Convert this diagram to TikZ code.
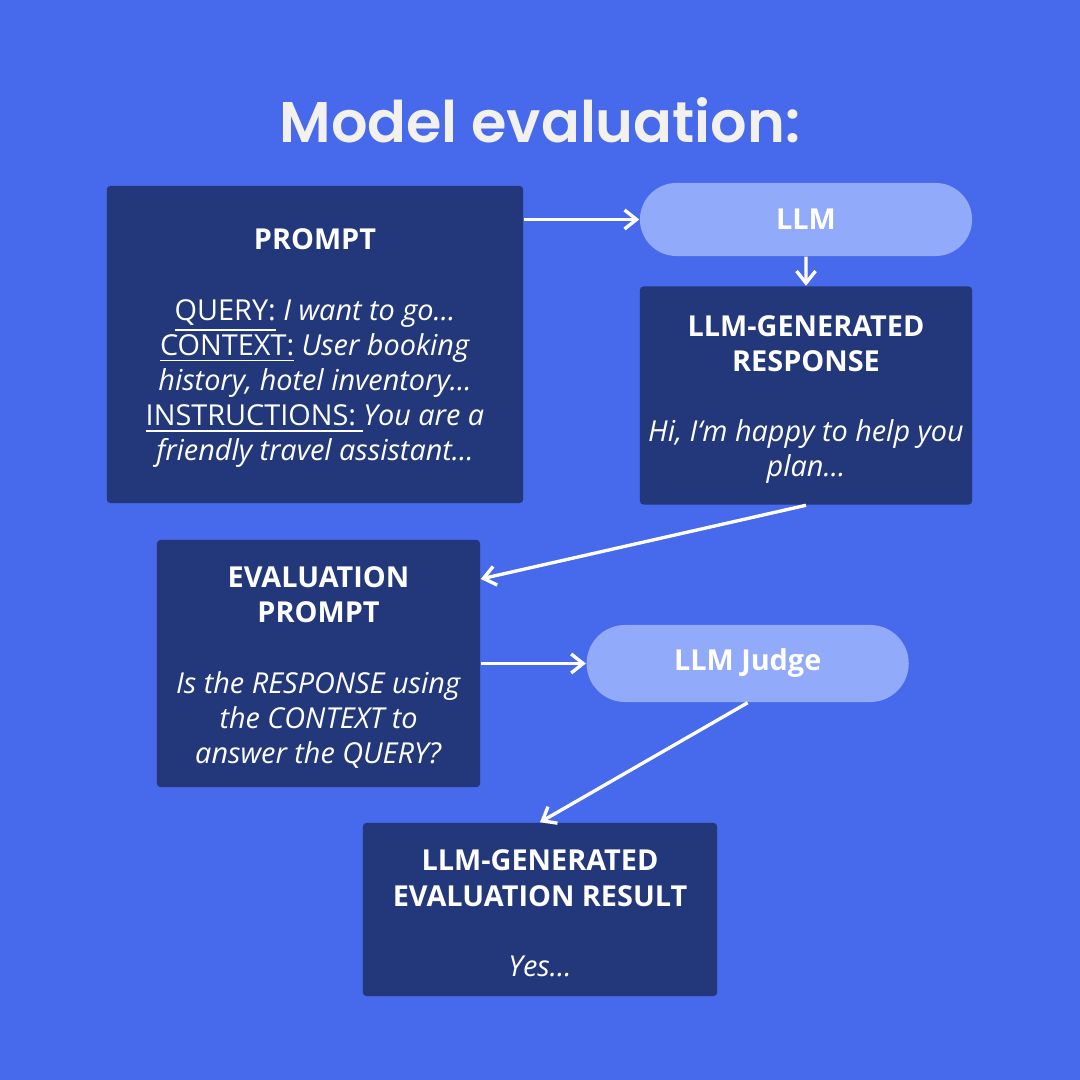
\documentclass[tikz,border=0pt]{standalone}
\usepackage{fontspec}
\setmainfont{Open Sans}
\newfontfamily\titlefont{Poppins}[BoldFont={Poppins SemiBold}]
\usetikzlibrary{arrows.meta,positioning,shapes.misc,calc}
\definecolor{evblue}{HTML}{4769EB}
\definecolor{evnavy}{HTML}{23387B}
\definecolor{evlight}{HTML}{91AAFA}
\definecolor{evwhite}{HTML}{F3F1EE}

\begin{document}
\begin{tikzpicture}[x=0.01cm,y=-0.01cm,>={Straight Barb[length=1.2mm,width=1.9mm]},node distance=0.29cm,
  box/.style={fill=evnavy,rounded corners=1pt,text=white,align=center,inner sep=0pt,font=\fontsize{8.2}{10}\selectfont},
  pill/.style={rounded rectangle,fill=evlight,text=white,inner sep=0pt,font=\fontsize{8.2}{10}\selectfont\bfseries},
  link/.style={->,draw=white,line width=0.95pt}]
\fill[evblue] (0,0) rectangle (1080,1080);
\useasboundingbox (0,0) rectangle (1080,1080);
\node[anchor=base,text=evwhite,font=\titlefont\fontsize{16.3}{20}\selectfont\bfseries](title) at (540,143){Model evaluation:};
% top row
\node[box,minimum width=4.16cm,minimum height=3.17cm](prompt) at (315,344.5){\rule{0pt}{8.2pt}\textbf{PROMPT}\\[10pt]
  \underline{QUERY:} \textit{I want to go...}\\
  \underline{CONTEXT:} \textit{User booking}\\
  \textit{history, hotel inventory...}\\
  \underline{INSTRUCTIONS: }\textit{You are a}\\
  \textit{friendly travel assistant...}};
\node[pill,minimum width=3.32cm,minimum height=0.73cm](llm) at (806,219.5){LLM};
\node[box,below=of llm,minimum width=3.32cm,minimum height=2.18cm](resp){\rule{0pt}{8.2pt}\textbf{LLM-GENERATED}\\
  \textbf{RESPONSE}\\[10pt]
  \textit{Hi, I`m happy to help you}\\
  \textit{plan...}};
% middle row
\node[box,minimum width=3.23cm,minimum height=2.47cm](eval) at (318.5,663.5){\rule{0pt}{8.2pt}\textbf{EVALUATION}\\
  \textbf{PROMPT}\\[10pt]
  \textit{Is the RESPONSE using}\\
  \textit{the CONTEXT to}\\
  \textit{answer the QUERY?}};
\node[pill,right=1.05cm of eval,minimum width=3.22cm,minimum height=0.77cm](judge){LLM Judge};
% bottom
\node[box,minimum width=3.54cm,minimum height=1.73cm](result) at (540,909.5){\rule{0pt}{8.2pt}\textbf{LLM-GENERATED}\\
  \textbf{EVALUATION RESULT}\\[10pt]
  \textit{Yes...}};
\draw[link] (prompt.east |- llm) -- (llm);
\draw[link] (llm) -- (resp);
\draw[link] (resp.south) -- ($(eval.north east)!0.16!(eval.south east)$);
\draw[link] (eval) -- (judge);
\draw[link] (judge.south) -- (result.north);
\end{tikzpicture}
\end{document}
